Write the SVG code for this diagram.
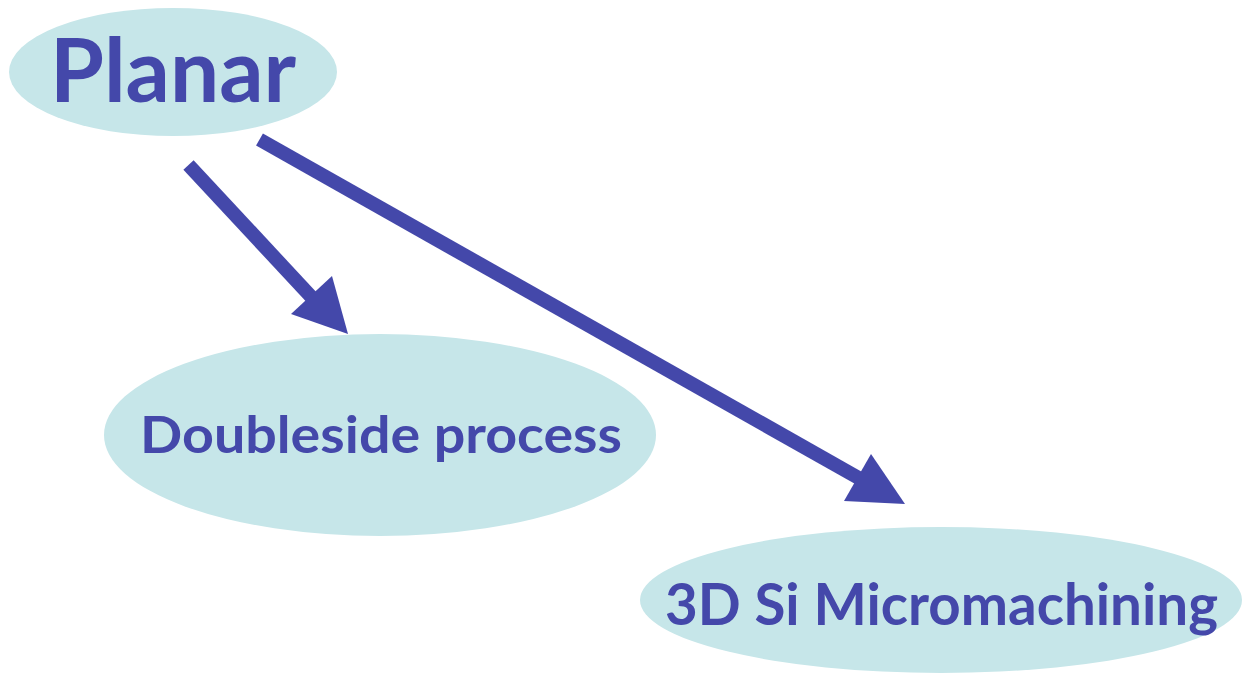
<svg xmlns="http://www.w3.org/2000/svg" width="1247" height="683" viewBox="0 0 1247 683">
<style>
.node ellipse{fill:#C6E6E9;}
.node text{font-family:Lato,"Open Sans","DejaVu Sans",sans-serif;font-weight:bold;fill:#4448AA;}
.edge line{stroke:#4448AA;stroke-width:14;}
.edge polygon{fill:#4448AA;}
</style>
<rect width="1247" height="683" fill="#FFFFFF"/>
<g id="node-planar" class="node">
<ellipse cx="173" cy="72" rx="164" ry="64"/>
<text x="50" y="102" font-size="88" textLength="246" lengthAdjust="spacingAndGlyphs">Planar</text>
</g>
<g id="node-doubleside" class="node">
<ellipse cx="380" cy="435" rx="276" ry="101"/>
<text x="140" y="453" font-size="52" textLength="482" lengthAdjust="spacingAndGlyphs">Doubleside process</text>
</g>
<g id="node-3dsi" class="node">
<ellipse cx="941" cy="600" rx="301" ry="73"/>
<text x="665" y="625" font-size="58" textLength="553" lengthAdjust="spacingAndGlyphs">3D Si Micromachining</text>
</g>
<g id="connectors" class="edge">
<line x1="188.5" y1="165" x2="316" y2="302"/>
<polygon points="348,334 332,276 291,314"/>
<line x1="259.5" y1="139.5" x2="864" y2="481"/>
<polygon points="905,504 871,454 844,501"/>
</g>
</svg>
